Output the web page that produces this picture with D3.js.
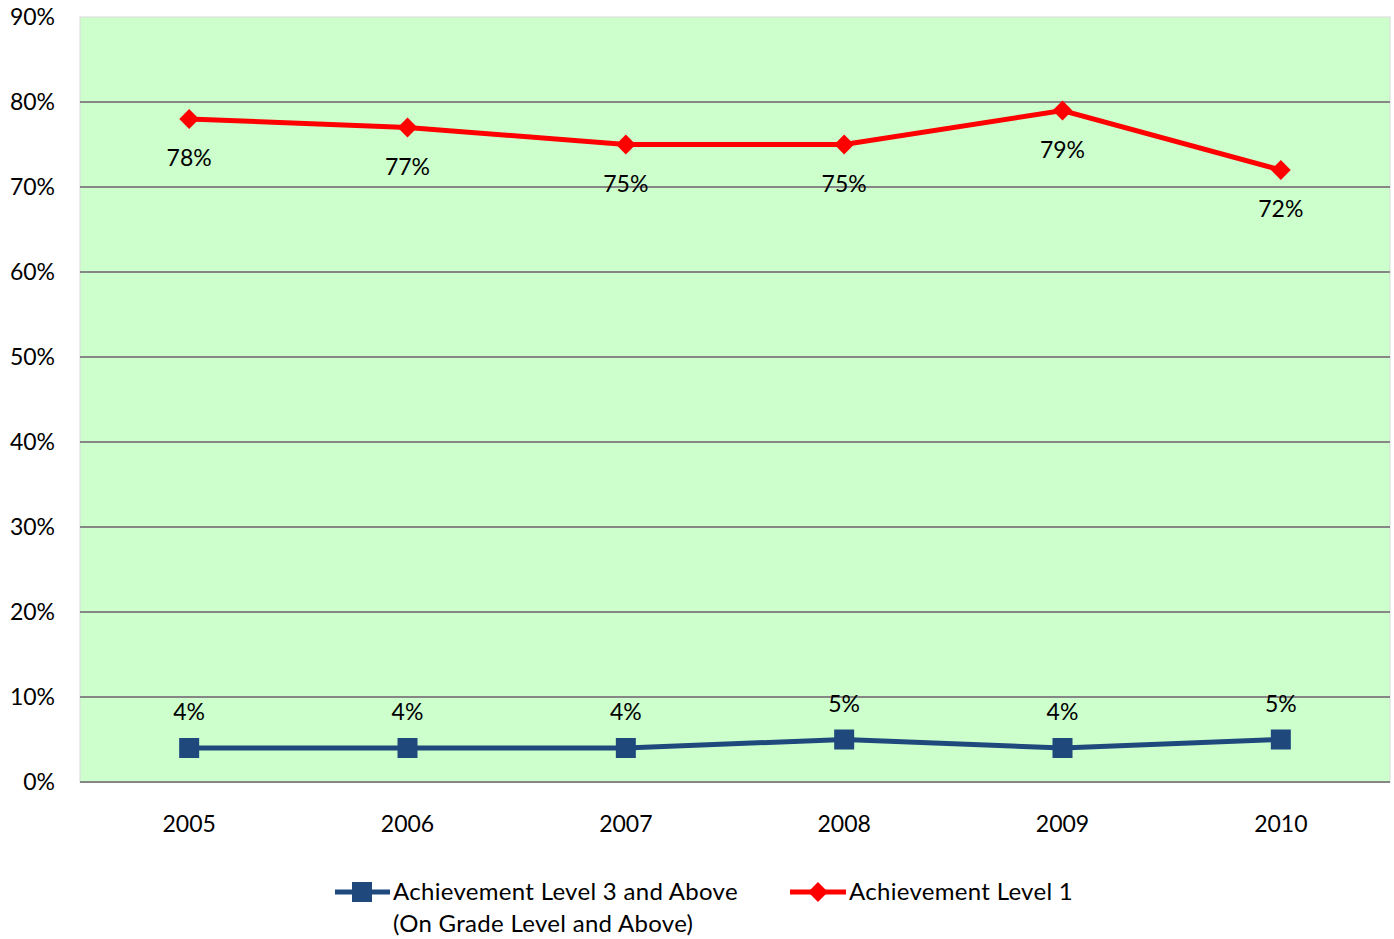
<!DOCTYPE html>
<html>
<head>
<meta charset="utf-8">
<script src="https://cdn.jsdelivr.net/npm/d3@7"></script>
<style>
  body { margin: 0; background: #fff; }
  svg text { font-family: Lato, "Open Sans", sans-serif; fill: #000; }
</style>
</head>
<body>
<svg width="1394" height="939"></svg>
<script>
var years = ["2005", "2006", "2007", "2008", "2009", "2010"];
var level3 = [0.04, 0.04, 0.04, 0.05, 0.04, 0.05];
var level1 = [0.78, 0.77, 0.75, 0.75, 0.79, 0.72];
var yTicks = [0, 0.1, 0.2, 0.3, 0.4, 0.5, 0.6, 0.7, 0.8, 0.9];

var svg = d3.select("svg"),
  pLeft = 80, pRight = 1390, pTop = 17, pBottom = 782;

var x = d3.scaleBand().domain(years).range([pLeft, pRight]);
var y = d3.scaleLinear().domain([0, 0.9]).range([pBottom, pTop]);
var cx = function(d, i) { return x(years[i]) + x.bandwidth() / 2; };
var pct = d3.format(".0%");

// plot area
svg.append("rect")
  .attr("x", pLeft).attr("y", pTop)
  .attr("width", pRight - pLeft).attr("height", pBottom - pTop)
  .attr("fill", "#ccffcc").attr("stroke", "#d9d9d9").attr("stroke-width", 1);

// gridlines
svg.append("g").selectAll("line").data(yTicks.slice(1, -1)).enter().append("line")
  .attr("x1", pLeft).attr("x2", pRight)
  .attr("y1", function(d) { return y(d); }).attr("y2", function(d) { return y(d); })
  .attr("stroke", "#868686").attr("stroke-width", 2);

// x axis line
svg.append("line").attr("x1", pLeft).attr("x2", pRight)
  .attr("y1", pBottom).attr("y2", pBottom)
  .attr("stroke", "#868686").attr("stroke-width", 2);

// y axis labels
var yAxis = d3.axisLeft(y).tickValues(yTicks).tickFormat(pct).tickSize(0).tickPadding(25);
var ga = svg.append("g").attr("transform", "translate(" + pLeft + ",0)").call(yAxis);
ga.select(".domain").remove();
ga.selectAll("text").attr("font-size", 23).attr("font-family", "Lato, sans-serif").attr("fill", "#000");

// x axis labels
var xAxis = d3.axisBottom(x).tickSize(0).tickPadding(34);
var gx = svg.append("g").attr("transform", "translate(0," + pBottom + ")").call(xAxis);
gx.select(".domain").remove();
gx.selectAll("text").attr("font-size", 23).attr("font-family", "Lato, sans-serif").attr("fill", "#000");

var line = d3.line().x(cx).y(function(d) { return y(d); });

// blue series
svg.append("path").datum(level3).attr("d", line)
  .attr("fill", "none").attr("stroke", "#1f497d").attr("stroke-width", 5);
svg.append("g").selectAll("rect").data(level3).enter().append("rect")
  .attr("x", function(d, i) { return cx(d, i) - 10; })
  .attr("y", function(d) { return y(d) - 10; })
  .attr("width", 20).attr("height", 20).attr("fill", "#1f497d");
svg.append("g").selectAll("text").data(level3).enter().append("text")
  .attr("x", cx).attr("y", function(d) { return y(d) - 28; })
  .attr("text-anchor", "middle").attr("font-size", 23)
  .text(pct);

// red series
svg.append("path").datum(level1).attr("d", line)
  .attr("fill", "none").attr("stroke", "#ff0000").attr("stroke-width", 5);
var diamond = d3.symbol().type(d3.symbolDiamond2).size(250);
svg.append("g").selectAll("path").data(level1).enter().append("path")
  .attr("d", diamond)
  .attr("transform", function(d, i) { return "translate(" + cx(d, i) + "," + y(d) + ")"; })
  .attr("fill", "#ff0000");
svg.append("g").selectAll("text").data(level1).enter().append("text")
  .attr("x", cx).attr("y", function(d) { return y(d) + 47; })
  .attr("text-anchor", "middle").attr("font-size", 23)
  .text(pct);

// legend
var lg = svg.append("g");
lg.append("line").attr("x1", 335).attr("x2", 390).attr("y1", 892).attr("y2", 892)
  .attr("stroke", "#1f497d").attr("stroke-width", 5);
lg.append("rect").attr("x", 352).attr("y", 882).attr("width", 20).attr("height", 20).attr("fill", "#1f497d");
lg.append("text").attr("x", 393).attr("y", 900).attr("font-size", 24).attr("letter-spacing", 0.3).text("Achievement Level 3 and Above");
lg.append("text").attr("x", 393).attr("y", 932).attr("font-size", 24).attr("letter-spacing", 0.3).text("(On Grade Level and Above)");
lg.append("line").attr("x1", 790).attr("x2", 846).attr("y1", 892).attr("y2", 892)
  .attr("stroke", "#ff0000").attr("stroke-width", 5);
lg.append("path").attr("d", diamond).attr("transform", "translate(818,892)").attr("fill", "#ff0000");
lg.append("text").attr("x", 849).attr("y", 900).attr("font-size", 24).attr("letter-spacing", 0.3).text("Achievement Level 1");
</script>
</body>
</html>
